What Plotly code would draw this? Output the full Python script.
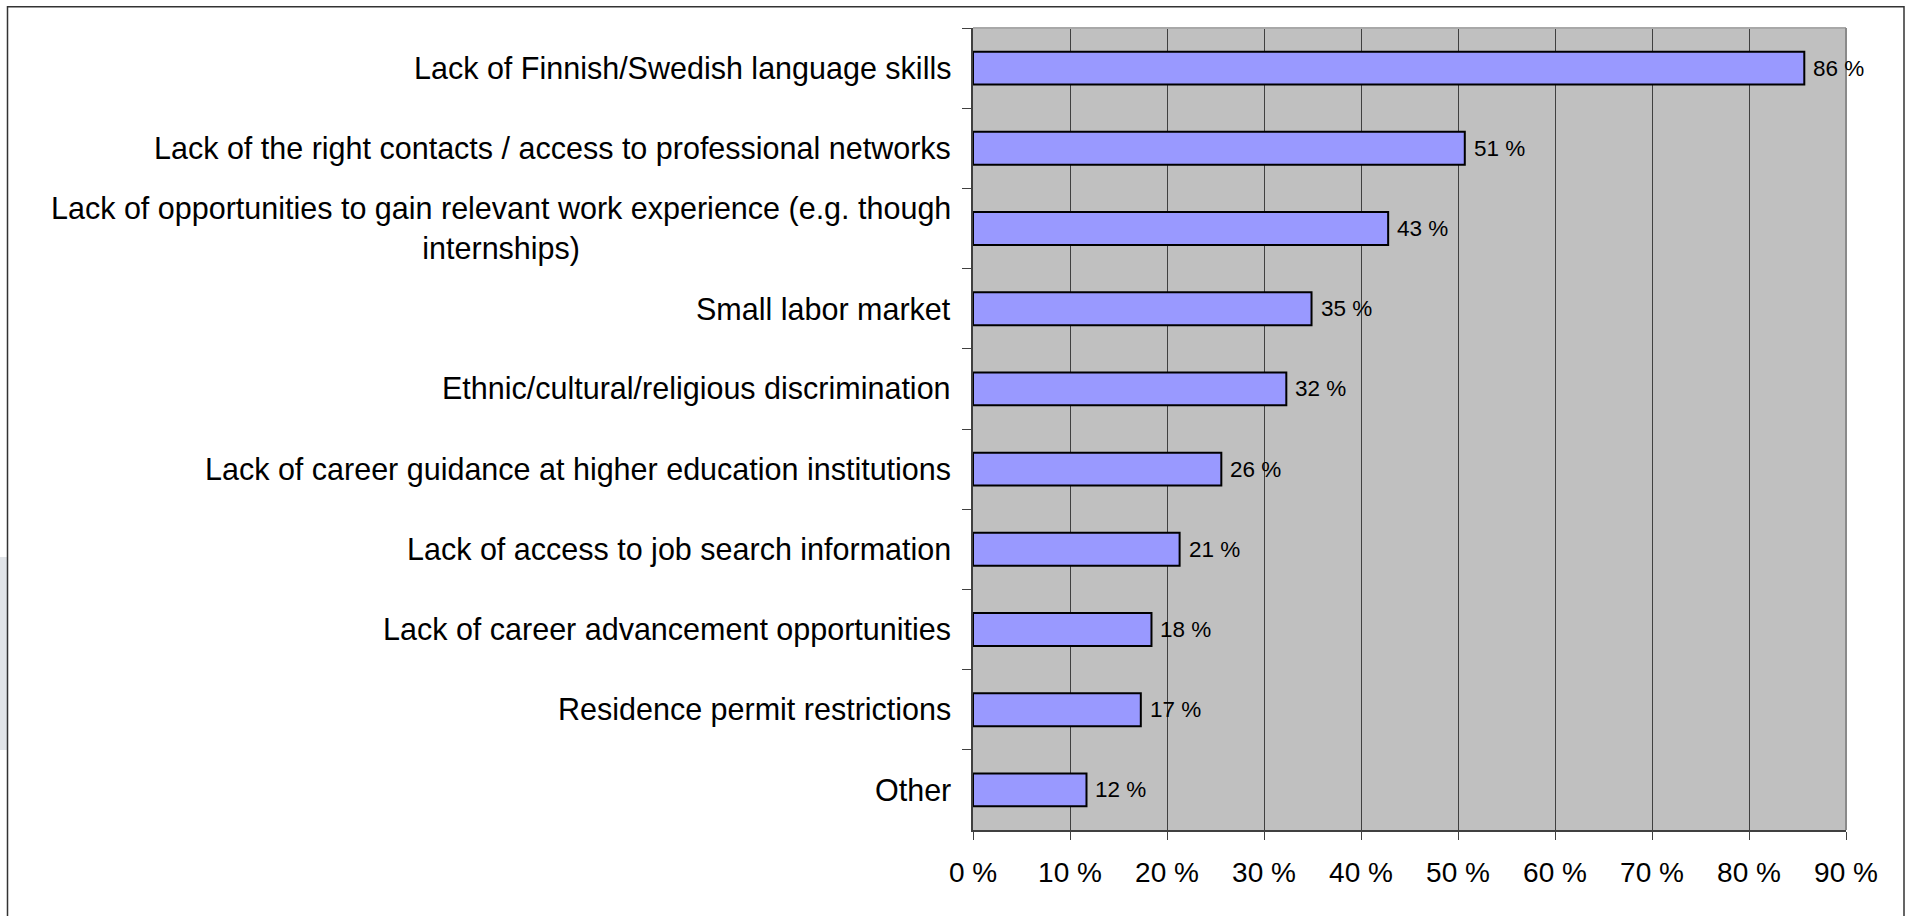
import plotly.graph_objects as go

# ---- data ----
categories = [
    "Lack of Finnish/Swedish language skills",
    "Lack of the right contacts / access to professional networks",
    "Lack of opportunities to gain relevant work experience (e.g. though<br>internships)",
    "Small labor market",
    "Ethnic/cultural/religious discrimination",
    "Lack of career guidance at higher education institutions",
    "Lack of access to job search information",
    "Lack of career advancement opportunities",
    "Residence permit restrictions",
    "Other",
]
values = [85.7, 50.7, 42.8, 34.9, 32.3, 25.6, 21.3, 18.4, 17.3, 11.7]
value_labels = ["86 %", "51 %", "43 %", "35 %", "32 %", "26 %", "21 %", "18 %", "17 %", "12 %"]
x_ticks = [0, 10, 20, 30, 40, 50, 60, 70, 80, 90]
x_tick_labels = ["0 %", "10 %", "20 %", "30 %", "40 %", "50 %", "60 %", "70 %", "80 %", "90 %"]

# ---- layout geometry (pixels) ----
W, H = 1906, 916
ML, MR, MT, MB = 973, 60, 28, 86
PW, PH = W - ML - MR, H - MT - MB


def px_x(p):
    return (p - ML) / PW


def px_y(p):
    return (H - MB - p) / PH


FONT = "Liberation Sans, Arial, sans-serif"

fig = go.Figure()
fig.add_trace(go.Bar(
    x=values,
    y=categories,
    orientation="h",
    marker=dict(color="#9999ff", line=dict(color="#000000", width=2)),
    hoverinfo="x+y",
))

annotations = []
for c in categories:
    annotations.append(dict(
        x=0, xref="paper", y=c, yref="y", text=c, showarrow=False,
        xanchor="right", yanchor="middle", align="center", xshift=-20,
        font=dict(family=FONT, size=30.5, color="#000000"),
    ))
for c, v, t in zip(categories, values, value_labels):
    annotations.append(dict(
        x=v, xref="x", y=c, yref="y", text=t, showarrow=False,
        xanchor="left", yanchor="middle", xshift=7,
        font=dict(family=FONT, size=22.5, color="#000000"),
    ))

shapes = [
    # light gray strip at far left
    dict(type="rect", xref="paper", yref="paper",
         x0=px_x(0), x1=px_x(7), y0=px_y(750), y1=px_y(557),
         fillcolor="#e1e4e8", line=dict(width=0), layer="below"),
    # outer frame
    dict(type="rect", xref="paper", yref="paper",
         x0=px_x(7.5), x1=px_x(1904), y0=px_y(925), y1=px_y(6.7),
         line=dict(color="#333333", width=1.5), fillcolor="rgba(0,0,0,0)"),
    # plot area top edge
    dict(type="line", xref="paper", yref="paper", x0=0, x1=1, y0=1, y1=1,
         line=dict(color="#a8a8a8", width=2)),
    # plot area right edge
    dict(type="line", xref="paper", yref="paper", x0=1, x1=1, y0=0, y1=1,
         line=dict(color="#8a8a8a", width=2)),
]

fig.update_layout(
    width=W, height=H,
    margin=dict(l=ML, r=MR, t=MT, b=MB, pad=0),
    paper_bgcolor="#ffffff",
    plot_bgcolor="#c0c0c0",
    showlegend=False,
    bargap=0.59,
    font=dict(family=FONT, color="#000000"),
    annotations=annotations,
    shapes=shapes,
    xaxis=dict(
        range=[0, 90], tickvals=x_ticks, ticktext=x_tick_labels,
        showgrid=True, gridcolor="#404040", gridwidth=1,
        zeroline=False, showline=True, linecolor="#404040", linewidth=2,
        ticks="outside", ticklen=8, tickwidth=1, tickcolor="#404040",
        tickfont=dict(family=FONT, size=28, color="#000000"),
        ticklabelstandoff=8, fixedrange=True,
    ),
    yaxis=dict(
        categoryorder="array", categoryarray=categories, autorange="reversed",
        showticklabels=False, showgrid=False, zeroline=False,
        showline=True, linecolor="#404040", linewidth=2,
        ticks="outside", ticklen=9, tickwidth=1, tickcolor="#404040",
        tickson="boundaries", fixedrange=True,
    ),
)

fig.write_html(
    "out.html",
    config={"displayModeBar": False},
    post_script="document.body.style.margin='0';document.body.style.overflow='hidden';",
)
